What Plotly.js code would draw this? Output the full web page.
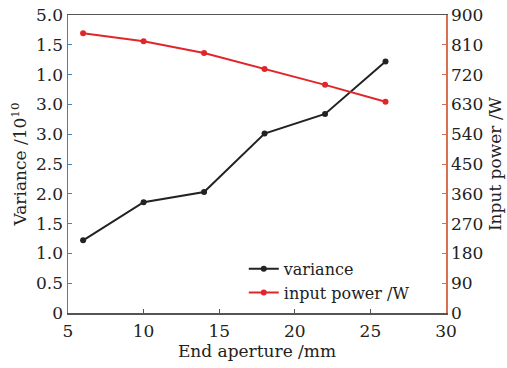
<!DOCTYPE html>
<html>
<head>
<meta charset="utf-8">
<script src="https://cdn.plot.ly/plotly-3.0.1.min.js"></script>
<style>
  html, body { margin: 0; padding: 0; background: #fff; }
  #chart { width: 507px; height: 368px; }
</style>
</head>
<body>
<div id="chart"></div>
<script>
// End aperture (mm)
const aperture = [6, 10, 14, 18, 22, 26];
// Variance (x 10^10)
const variance = [1.22, 1.86, 2.03, 3.01, 3.34, 4.22];
// Input power (W)
const inputPower = [845, 821, 785, 737, 689, 638];

// Left axis tick positions and the labels printed at them
const leftTickVals = [0, 0.5, 1.0, 1.5, 2.0, 2.5, 3.0, 3.5, 4.0, 4.5, 5.0];
const leftLabels = ['0', '0.5', '1.0', '1.5', '2.0', '2.5', '3.0', '3.0', '1.0', '1.5', '5.0'];
const rightTickVals = [0, 90, 180, 270, 360, 450, 540, 630, 720, 810, 900];
const xTickVals = [5, 10, 15, 20, 25, 30];

const serif = 'DejaVu Serif, Liberation Serif, serif';
const ink = '#222';

const traces = [
  {
    x: aperture, y: variance, name: 'variance',
    type: 'scatter', mode: 'lines+markers',
    line: { color: '#222222', width: 2 },
    marker: { color: '#222222', size: 6 },
    yaxis: 'y'
  },
  {
    x: aperture, y: inputPower, name: 'input power /W',
    type: 'scatter', mode: 'lines+markers',
    line: { color: '#e0262b', width: 2 },
    marker: { color: '#e0262b', size: 6 },
    yaxis: 'y2'
  }
];

const layout = {
  width: 507, height: 368,
  margin: { l: 68, r: 61, t: 15, b: 55 },
  paper_bgcolor: '#fff', plot_bgcolor: '#fff',
  font: { family: serif, size: 16, color: ink },
  showlegend: true,
  legend: {
    x: 0.465, y: 0.205, xanchor: 'left', yanchor: 'top',
    bgcolor: 'rgba(0,0,0,0)', borderwidth: 0,
    font: { family: serif, size: 16, color: ink },
    tracegroupgap: 0, itemwidth: 30
  },
  xaxis: {
    range: [5, 30], tickvals: xTickVals, ticktext: xTickVals.map(String),
    showgrid: false, zeroline: false,
    showline: true, linecolor: '#555', linewidth: 1.5, mirror: true,
    ticks: 'inside', ticklen: 4, tickcolor: '#555',
    ticklabelstandoff: 2,
    tickfont: { family: serif, size: 17, color: ink },
    title: { text: 'End aperture /mm', font: { family: serif, size: 17, color: ink }, standoff: 0 }
  },
  yaxis: {
    range: [0, 5], tickvals: leftTickVals, ticktext: leftLabels,
    showgrid: false, zeroline: false,
    showline: true, linecolor: '#3b82c4', linewidth: 1.5,
    ticks: 'inside', ticklen: 4, tickcolor: '#3b82c4',
    tickfont: { family: serif, size: 17, color: ink },
    title: { text: 'Variance /10<sup>10</sup>', font: { family: serif, size: 17, color: ink }, standoff: 5 }
  },
  yaxis2: {
    range: [0, 900], tickvals: rightTickVals, ticktext: rightTickVals.map(String),
    overlaying: 'y', side: 'right',
    showgrid: false, zeroline: false,
    showline: true, linecolor: '#d9704f', linewidth: 1.5,
    ticks: 'inside', ticklen: 4, tickcolor: '#d9704f',
    tickfont: { family: serif, size: 17, color: ink },
    title: { text: 'Input power /W', font: { family: serif, size: 17, color: ink }, standoff: 6 }
  }
};

Plotly.newPlot('chart', traces, layout, { displayModeBar: false, staticPlot: true });
</script>
</body>
</html>
